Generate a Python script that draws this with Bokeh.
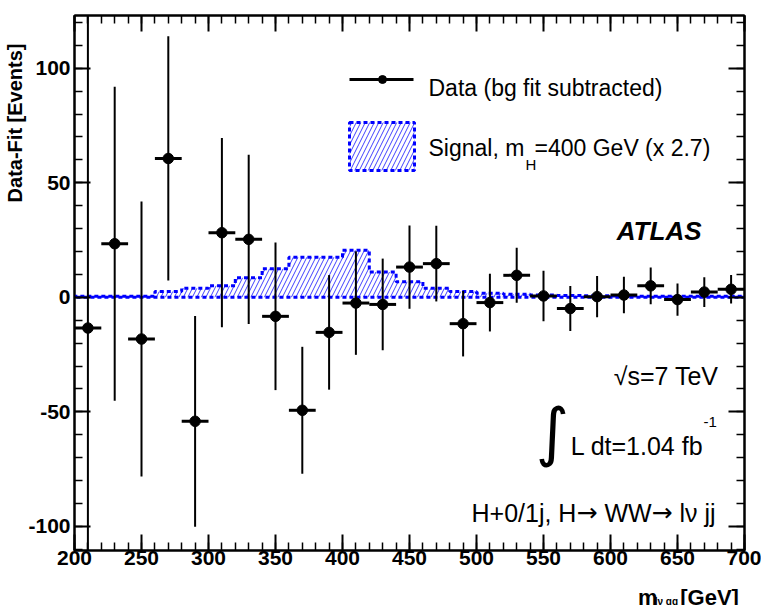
import numpy as np
from bokeh.plotting import figure
from bokeh.layouts import column
from bokeh.models import (Range1d, LinearAxis, SingleIntervalTicker, Label, ColumnDataSource,
                          Title, CustomJSTickFormatter, NumeralTickFormatter)
from bokeh.embed import file_html
from bokeh.resources import INLINE

# ---------------- data ----------------
bin_centers = [210, 230, 250, 270, 290, 310, 330, 350, 370, 390, 410, 430, 450,
               470, 490, 510, 530, 550, 570, 590, 610, 630, 650, 670, 690]
data_vals = [-13.4, 23.4, -18.2, 60.6, -54.1, 28.2, 25.3, -8.3, -49.3, -15.3, -2.5, -3.1, 13.2,
             14.7, -11.5, -2.3, 9.6, 0.6, -4.9, 0.3, 1.0, 5.0, -1.0, 2.3, 3.5]
data_errs = [140.0, 68.5, 60.0, 53.3, 46.0, 41.3, 36.9, 32.2, 27.7, 25.0, 22.6, 20.0, 18.2,
             16.5, 14.3, 12.6, 12.0, 11.0, 9.8, 9.0, 8.0, 8.0, 7.0, 6.5, 6.2]
bin_half_width = 10

sig_edges = [200, 220, 240, 260, 280, 300, 320, 340, 360, 380, 400, 420, 440, 460,
             480, 500, 520, 540, 560, 580, 600, 620, 640, 660, 680, 700]
sig_vals = [0.5, 0.5, 0.5, 2.5, 4.0, 5.0, 8.5, 12.5, 17.5, 17.5, 20.5, 11.0, 6.8,
            4.0, 2.5, 1.8, 1.3, 1.0, 0.8, 0.7, 0.6, 0.5, 0.5, 0.5, 0.5]

x_ticks_major = 50
y_ticks_major = 50

FONT = "Liberation Sans"
SYMFONT = "DejaVu Sans"
BLUE = "#0000ff"
HATCH = "#4040ff"

X0, X1 = 200, 700
Y0, Y1 = -110.5, 123
H_MAIN = 574
FL, FR, FT, FB = 74, 744, 15, 550   # frame in canvas pixels


def px2x(px):
    return X0 + (px - FL) * (X1 - X0) / (FR - FL)


def py2y(py):
    return Y1 - (py - FT) * (Y1 - Y0) / (FB - FT)


p = figure(width=761, height=H_MAIN, x_range=Range1d(X0, X1), y_range=Range1d(Y0, Y1),
           output_backend="svg", toolbar_location=None,
           min_border_left=FL, min_border_right=761 - FR, min_border_top=FT,
           min_border_bottom=H_MAIN - FB)
p.xgrid.visible = False
p.ygrid.visible = False
p.outline_line_color = "black"
p.outline_line_width = 2
p.background_fill_color = "white"
p.border_fill_color = "white"


def style_axis(ax, interval, labels=True):
    ax.ticker = SingleIntervalTicker(interval=interval, num_minor_ticks=5)
    ax.major_tick_in = 16
    ax.major_tick_out = 0
    ax.minor_tick_in = 8
    ax.minor_tick_out = 0
    ax.axis_line_width = 2
    ax.major_tick_line_width = 2
    ax.minor_tick_line_width = 1.5
    ax.major_label_text_font = FONT
    ax.major_label_text_font_style = "bold"
    ax.major_label_text_color = "black"
    ax.major_label_text_font_size = "21px"
    if labels:
        ax.formatter = NumeralTickFormatter(format="0")
    else:
        ax.formatter = CustomJSTickFormatter(code="return ''")
        ax.major_label_text_font_size = "2px"
        ax.major_label_standoff = 0


style_axis(p.xaxis[0], x_ticks_major)
p.xaxis[0].major_label_standoff = 0
style_axis(p.yaxis[0], y_ticks_major)
p.yaxis[0].major_label_standoff = 4

ax_top = LinearAxis()
style_axis(ax_top, x_ticks_major, labels=False)
p.add_layout(ax_top, "above")
ax_right = LinearAxis()
style_axis(ax_right, y_ticks_major, labels=False)
p.add_layout(ax_right, "right")

# y axis title (ROOT style: aligned to the top end of the axis)
p.add_layout(Title(text="Data-Fit [Events]", align="right", offset=28, standoff=0,
                   text_font=FONT, text_font_size="20px", text_font_style="bold",
                   text_color="black"), "left")

# ---------------- signal histogram ----------------
edges = np.array(sig_edges, dtype=float)
vals = np.array(sig_vals, dtype=float)
hx = np.repeat(edges, 2)[1:-1]
hy = np.repeat(vals, 2)
hpx = np.concatenate([[edges[0]], hx, [edges[-1]]])
hpy = np.concatenate([[0.0], hy, [0.0]])
p.patch(hpx, hpy, fill_color=None, hatch_pattern="/", hatch_color=HATCH, hatch_weight=1,
        hatch_scale=9, line_color=BLUE, line_width=3, line_dash="4 3")

# ---------------- data points ----------------
xc = np.array(bin_centers, dtype=float)
yv = np.array(data_vals, dtype=float)
ev = np.array(data_errs, dtype=float)
src = ColumnDataSource(dict(x=xc, y=yv, lo=yv - ev, hi=yv + ev,
                            xl=xc - bin_half_width, xr=xc + bin_half_width))
p.segment(x0="x", y0="lo", x1="x", y1="hi", source=src, line_color="black", line_width=2)
p.segment(x0="xl", y0="y", x1="xr", y1="y", source=src, line_color="black", line_width=3)
p.scatter(x="x", y="y", source=src, marker="circle", size=10.5, fill_color="black", line_color="black")

# ---------------- legend ----------------
p.segment(x0=[px2x(349)], y0=[py2y(79)], x1=[px2x(413)], y1=[py2y(79)], line_color="black", line_width=3)
p.scatter(x=[px2x(382)], y=[py2y(79)], marker="circle", size=8, fill_color="black", line_color="black")
p.quad(left=[px2x(349)], right=[px2x(414)], top=[py2y(122)], bottom=[py2y(170)], fill_color=None,
       hatch_pattern="/", hatch_color=HATCH, hatch_weight=1, hatch_scale=9,
       line_color=BLUE, line_width=3, line_dash="4 3")


def lab(fig, text, x, y, size, align="left", baseline="alphabetic", style="normal", font=FONT, angle=0.0):
    fig.add_layout(Label(x=x, y=y, text=text, text_font=font, text_font_size=size,
                         text_font_style=style, text_align=align, text_baseline=baseline,
                         text_color="black", angle=angle))


lab(p, "Data (bg fit subtracted)", px2x(428), py2y(87), "23px")
lab(p, "Signal, m", px2x(428), py2y(147), "23px")
lab(p, "H", px2x(525), py2y(164), "15px")
lab(p, "=400 GeV (x 2.7)", px2x(534), py2y(147), "23px")

lab(p, "ATLAS", px2x(701), py2y(230), "26px", align="right", style="bold italic")
lab(p, "\u221as=7 TeV", px2x(718), py2y(375), "25px", align="right")
lab(p, "\u222b", px2x(552), py2y(431), "64px", align="center", baseline="middle", font=SYMFONT)
lab(p, "L dt=1.04 fb", px2x(703), py2y(445), "25px", align="right")
lab(p, "-1", px2x(703), py2y(421), "15px")

# "H+0/1j, H→ WW→ lν jj" assembled left-to-right (arrows from a symbol font)
S = 471
lab(p, "H+0/1j, H", px2x(S), py2y(512), "25px")
lab(p, "\u2192", px2x(S + 104.9), py2y(512), "25px", font=SYMFONT)
lab(p, "WW", px2x(S + 132.9), py2y(512), "25px")
lab(p, "\u2192", px2x(S + 180.1), py2y(512), "25px", font=SYMFONT)
lab(p, "l\u03bd jj", px2x(S + 208.0), py2y(512), "25px")

# ---------------- x-axis title strip ----------------
HS = 605 - H_MAIN
s = figure(width=761, height=HS, x_range=Range1d(0, 761), y_range=Range1d(0, HS),
           output_backend="svg", toolbar_location=None,
           min_border_left=0, min_border_right=0, min_border_top=0, min_border_bottom=0,
           x_axis_location=None, y_axis_location=None)
s.xgrid.visible = False
s.ygrid.visible = False
s.outline_line_color = None
s.background_fill_color = "white"
s.border_fill_color = "white"
lab(s, "m", 640, 8, "22px", style="bold")
lab(s, "l\u03bd qq", 659, 4, "10px", style="bold")
lab(s, "[GeV]", 688, 8, "22px", style="bold")

layout = column(p, s, spacing=0)
open("out.html", "w").write(file_html(layout, INLINE))
